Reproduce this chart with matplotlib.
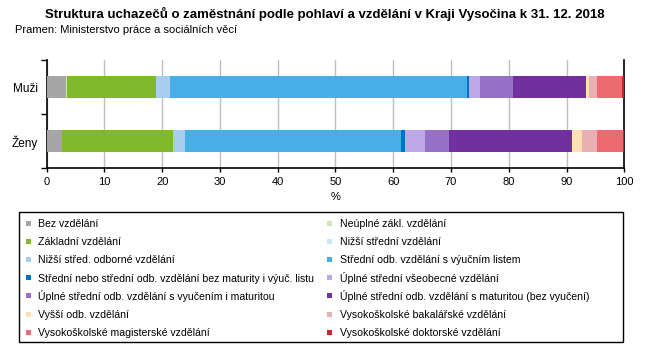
#!/usr/bin/env python3

import matplotlib
matplotlib.use("Agg")
import matplotlib.pyplot as plt
from matplotlib.patches import Rectangle

# -----------------------
# Data
# -----------------------
categories = ["Muži", "Ženy"]

labels = [
    "Bez vzdělání",
    "Neúplné zákl. vzdělání",
    "Základní vzdělání",
    "Nižší střední vzdělání",
    "Nižší střed. odborné vzdělání",
    "Střední odb. vzdělání s výučním listem",
    "Střední nebo střední odb. vzdělání bez maturity i výuč. listu",
    "Úplné střední všeobecné vzdělání",
    "Úplné střední odb. vzdělání s vyučením i maturitou",
    "Úplné střední odb. vzdělání s maturitou (bez vyučení)",
    "Vyšší odb. vzdělání",
    "Vysokoškolské bakalářské vzdělání",
    "Vysokoškolské magisterské vzdělání",
    "Vysokoškolské doktorské vzdělání",
]

muzi = [3.4, 0.15, 15.4, 0.0, 2.4, 51.5, 0.3, 1.9, 5.7, 12.6, 0.6, 1.4, 4.3, 0.3]
zeny = [2.6, 0.1, 19.1, 0.0, 2.2, 37.3, 0.7, 3.5, 4.1, 21.4, 1.6, 2.6, 4.6, 0.2]

colors = [
    "#a6a6a6", "#cfe6b8", "#80ba2c", "#c8e6f8", "#a9cdee", "#47aee6",
    "#0070c0", "#bca8e6", "#9670c4", "#70309e", "#fde0b4", "#e8b0b2",
    "#ec6b70", "#d0202a",
]

x_ticks = list(range(0, 101, 10))

# -----------------------
# Plot
# -----------------------
plt.rcParams["font.family"] = ["Liberation Sans", "DejaVu Sans"]

W, H = 650, 360
fig = plt.figure(figsize=(W / 100, H / 100), dpi=100)
ax = fig.add_axes([0.0718, 0.5325, 0.8887, 0.3008])

left = [0.0, 0.0]
for lab, m, z, c in zip(labels, muzi, zeny, colors):
    vals = [m, z]
    ax.barh([0, 1], vals, left=left, height=0.4, color=c, label=lab, zorder=3)
    left = [left[0] + m, left[1] + z]

ax.set_xlim(0, 100)
ax.set_ylim(1.5, -0.5)
ax.set_xticks(x_ticks)
ax.tick_params(axis="x", labelsize=8, length=3, width=1, pad=3)
ax.set_yticks([0, 1])
ax.set_yticklabels(categories, fontsize=8.5)
ax.set_yticks([-0.5, 0.5, 1.5], minor=True)
ax.tick_params(axis="y", which="major", length=0, pad=6)
ax.tick_params(axis="y", which="minor", length=4, width=1)
ax.grid(True, axis="x", color="#bfbfbf", linewidth=1, zorder=0)
ax.set_axisbelow(True)
ax.spines["top"].set_visible(False)
for s in ["left", "bottom", "right"]:
    ax.spines[s].set_linewidth(1.2)
ax.set_xlabel("%", fontsize=8, labelpad=4)

# Title and source
fig.text(0.5, 0.962, "Struktura uchazečů o zaměstnání podle pohlaví a vzdělání v Kraji Vysočina k 31. 12. 2018",
         ha="center", va="center", fontsize=9.5, fontweight="bold")
fig.text(15 / W, 0.917, "Pramen: Ministerstvo práce a sociálních věcí",
         ha="left", va="center", fontsize=8)

# -----------------------
# Legend (drawn by hand so both columns share row heights)
# -----------------------
box_x0, box_x1, box_y0, box_y1 = 19, 623, 212, 342
fig.patches.append(Rectangle((box_x0 / W, 1 - box_y1 / H), (box_x1 - box_x0) / W,
                             (box_y1 - box_y0) / H, transform=fig.transFigure,
                             fill=False, edgecolor="black", linewidth=1.0))
row_y0, row_step = 223, 18.2
col_marker_x = [29, 329]
col_text_x = [38, 340]
for i, (lab, c) in enumerate(zip(labels, colors)):
    row, col = divmod(i, 2)
    yp = row_y0 + row * row_step
    fig.patches.append(Rectangle(((col_marker_x[col] - 2.5) / W, 1 - (yp + 2.5) / H), 5 / W, 5 / H,
                                 transform=fig.transFigure, facecolor=c, edgecolor="none"))
    fig.text(col_text_x[col] / W, 1 - (yp + 4) / H, lab, ha="left", va="baseline", fontsize=7.6)

fig.savefig("out.png", dpi=100)
